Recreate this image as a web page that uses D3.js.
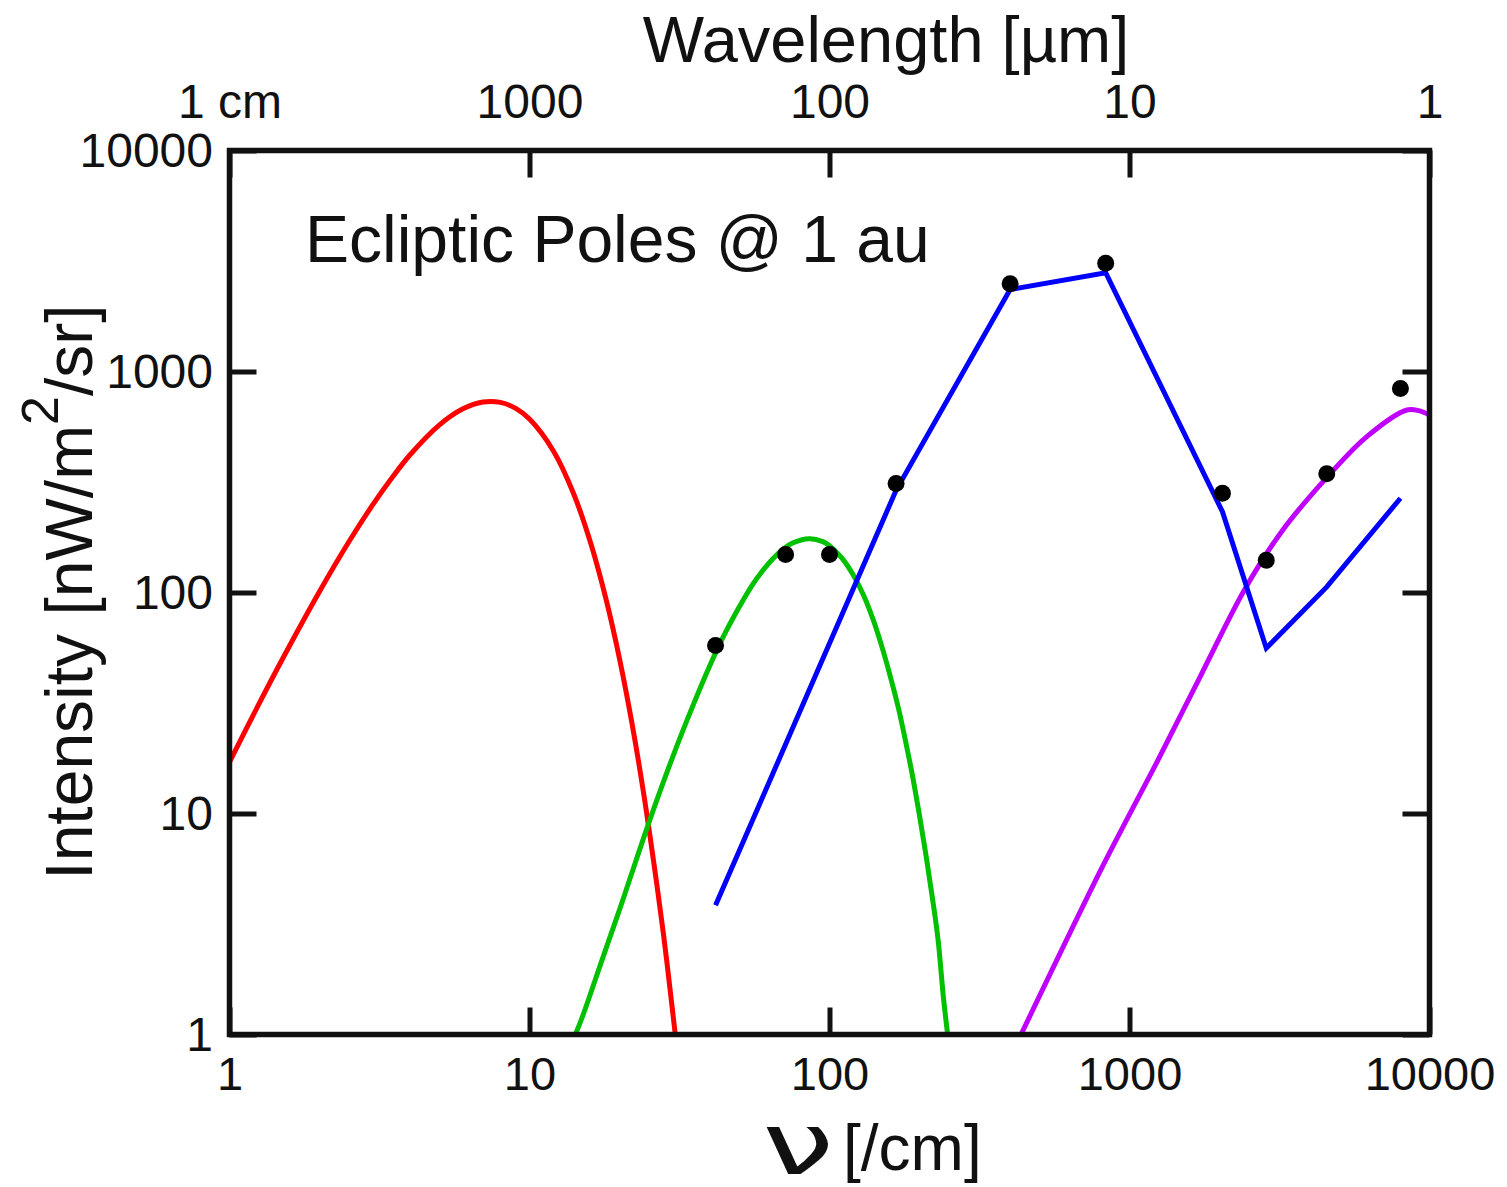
<!DOCTYPE html>
<html>
<head>
<meta charset="utf-8">
<script src="https://cdn.jsdelivr.net/npm/d3@7"></script>
<style>
  body { margin: 0; background: #ffffff; }
  svg { display: block; }
</style>
</head>
<body>
<div id="chart"></div>
<script>
// colours / fonts
var tcolor = '#111111';
var font = '"Liberation Sans", Arial, Helvetica, sans-serif';
var red = '#ff0000';
var green = '#00c000';
var blue = '#0000ff';
var violet = '#c000ff';

// axis ticks
var nuTicks = [1, 10, 100, 1000, 10000];
var intensityTicks = [1, 10, 100, 1000, 10000];
var wavelengthTicks = [10000, 1000, 100, 10, 1];
var wavelengthLabels = ['1 cm', '1000', '100', '10', '1'];

// red: CMB
var cmbNu = [1, 1.25, 1.5, 2, 2.5, 3, 3.5, 4, 5, 6, 7, 8, 9, 10, 12, 14, 16, 18, 20, 22, 24, 26, 28, 30, 31];
var cmbI = [17.1, 31.1, 49.9, 101.6, 169.6, 249, 334, 420, 572, 678, 728, 725, 681, 609, 438, 282, 167, 93, 49.4, 25.2, 12.4, 5.9, 2.8, 1.27, 0.86];

// green: dust
var dustNu = [14, 15, 17.5, 20, 25, 30, 35, 40, 45, 50, 55, 60, 65, 70, 75, 85.8, 95, 100, 110, 120, 130, 140, 150, 160, 170, 180, 190, 200, 210, 220, 230, 240, 250, 260];
var dustI = [0.95, 1.2, 2.2, 3.7, 9.1, 18, 30.6, 47, 66, 86, 107, 126, 143, 157, 167, 175, 170, 163, 143, 120, 97, 75, 56, 41, 29.7, 20.7, 14.3, 9.6, 6.4, 4.2, 2.7, 1.45, 0.9, 0.6];

// blue: zodiacal model (straight segments)
var zodiNu = [41.7, 166.7, 400, 833, 2041, 2857, 4545, 8000];
var zodiI = [3.84, 290, 2350, 2800, 232, 56, 106, 267];

// violet: starlight
var starNu = [435, 794, 1000, 1227, 1711, 2418, 3244, 4761, 6152, 8360, 9200, 10000];
var starI = [1, 5.4, 9.9, 16.8, 41, 103, 192, 355, 505, 668, 665, 636];

// black dots: measured bands
var bandNu = [41.7, 71.4, 100, 166.7, 400, 833, 2041, 2857, 4545, 8000];
var bandI = [57.6, 148.6, 148.6, 311, 2495, 3090, 281, 140, 345, 838];

var width = 1507, height = 1187;
var plotLeft = 229.5, plotRight = 1429.5, plotTop = 150.5, plotBottom = 1034.5;
var tickLen = 27;

function zip(a, b) {
	return a.map(function (v, i) { return [v, b[i]]; });
}

function plotChart() {
	var svg = d3.select('#chart')
		.append('svg')
		.attr('width', width)
		.attr('height', height)
		.style('font-family', font);

	svg.append('rect').attr('width', width).attr('height', height).attr('fill', '#ffffff');

	var x = d3.scaleLog().domain([1, 10000]).range([plotLeft, plotRight]);
	var y = d3.scaleLog().domain([1, 10000]).range([plotBottom, plotTop]);
	var xw = d3.scaleLog().domain([10000, 1]).range([plotLeft, plotRight]); // wavelength, µm

	// axes (ticks point inward)
	var bottomAxis = svg.append('g')
		.attr('transform', 'translate(0,' + plotBottom + ')')
		.call(d3.axisBottom(x).tickValues(nuTicks).tickSize(-tickLen).tickSizeOuter(0)
			.tickPadding(22.5).tickFormat(d3.format('d')));
	var topAxis = svg.append('g')
		.attr('transform', 'translate(0,' + plotTop + ')')
		.call(d3.axisTop(xw).tickValues(wavelengthTicks).tickSize(-tickLen).tickSizeOuter(0)
			.tickPadding(33).tickFormat(function (d, i) { return wavelengthLabels[i]; }));
	var leftAxis = svg.append('g')
		.attr('transform', 'translate(' + plotLeft + ',0)')
		.call(d3.axisLeft(y).tickValues(intensityTicks).tickSize(-tickLen).tickSizeOuter(0)
			.tickPadding(16.5).tickFormat(d3.format('d')));
	var rightAxis = svg.append('g')
		.attr('transform', 'translate(' + plotRight + ',0)')
		.call(d3.axisRight(y).tickValues(intensityTicks).tickSize(-tickLen).tickSizeOuter(0)
			.tickFormat(''));

	[bottomAxis, topAxis, leftAxis, rightAxis].forEach(function (g) {
		g.select('.domain').remove();
		g.selectAll('line').attr('stroke', tcolor).attr('stroke-width', 5);
		g.selectAll('text').attr('fill', tcolor).style('font-size', '47px').style('font-family', font);
	});
	leftAxis.selectAll('text').style('font-size', '48px').attr('dy', '0.33em');
	topAxis.selectAll('text').style('font-size', '48px');

	// data lines
	svg.append('clipPath').attr('id', 'plotclip')
		.append('rect')
		.attr('x', plotLeft).attr('y', plotTop)
		.attr('width', plotRight - plotLeft).attr('height', plotBottom - plotTop);

	var smooth = d3.line()
		.x(function (d) { return x(d[0]); })
		.y(function (d) { return y(d[1]); })
		.curve(d3.curveCatmullRom.alpha(0.5));
	var straight = d3.line()
		.x(function (d) { return x(d[0]); })
		.y(function (d) { return y(d[1]); });

	var lines = svg.append('g').attr('clip-path', 'url(#plotclip)');
	var series = [
		{ data: zip(cmbNu, cmbI), color: red, gen: smooth },
		{ data: zip(dustNu, dustI), color: green, gen: smooth },
		{ data: zip(starNu, starI), color: violet, gen: smooth },
		{ data: zip(zodiNu, zodiI), color: blue, gen: straight }
	];
	lines.selectAll('path.series')
		.data(series)
		.enter().append('path')
		.attr('class', 'series')
		.attr('d', function (s) { return s.gen(s.data); })
		.attr('fill', 'none')
		.attr('stroke', function (s) { return s.color; })
		.attr('stroke-width', 5)
		.attr('stroke-linejoin', 'miter');

	svg.append('g').selectAll('circle')
		.data(zip(bandNu, bandI))
		.enter().append('circle')
		.attr('cx', function (d) { return x(d[0]); })
		.attr('cy', function (d) { return y(d[1]); })
		.attr('r', 8.5)
		.attr('fill', '#000000');

	// frame
	svg.append('rect')
		.attr('x', plotLeft).attr('y', plotTop)
		.attr('width', plotRight - plotLeft).attr('height', plotBottom - plotTop)
		.attr('fill', 'none')
		.attr('stroke', tcolor)
		.attr('stroke-width', 5.5);

	// titles
	svg.append('text')
		.attr('x', 886).attr('y', 62)
		.attr('text-anchor', 'middle')
		.attr('fill', tcolor)
		.style('font-size', '65px')
		.text('Wavelength [µm]');

	svg.append('text')
		.attr('x', 305).attr('y', 262)
		.attr('fill', tcolor)
		.style('font-size', '66px')
		.text('Ecliptic Poles @ 1 au');

	var ylab = svg.append('text')
		.attr('transform', 'translate(92,592) rotate(-90)')
		.attr('text-anchor', 'middle')
		.attr('fill', tcolor)
		.style('font-size', '66px');
	ylab.append('tspan').text('Intensity [nW/m');
	ylab.append('tspan').attr('dy', -34).style('font-size', '52px').text('2');
	ylab.append('tspan').attr('dy', 34).text('/sr]');

	// x label: big nu + unit
	svg.append('text')
		.attr('transform', 'translate(762,1174) scale(1.5,1)')
		.attr('fill', tcolor)
		.style('font-family', '"DejaVu Sans", sans-serif')
		.style('font-size', '86px')
		.text('ν');
	svg.append('text')
		.attr('x', 843).attr('y', 1170)
		.attr('fill', tcolor)
		.style('font-size', '64px')
		.text('[/cm]');
}

plotChart();
</script>
</body>
</html>
